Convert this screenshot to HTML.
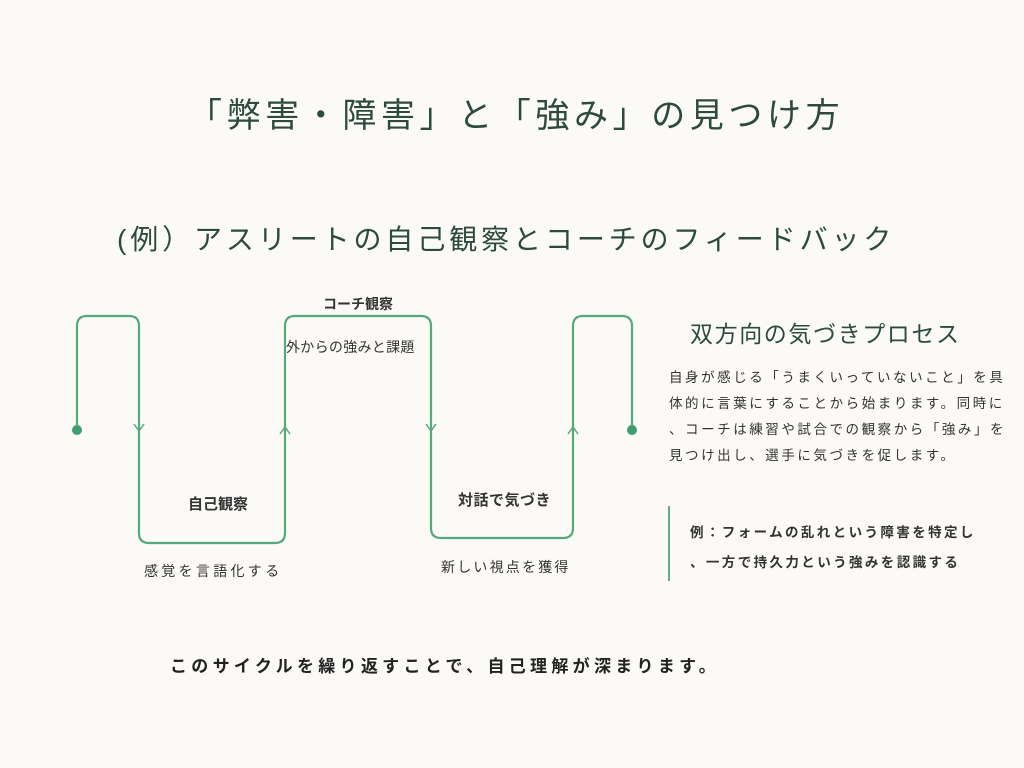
<!DOCTYPE html>
<html><head><meta charset="utf-8"><style>
body{margin:0;background:#fbfaf7;width:1024px;height:768px;overflow:hidden;position:relative;font-family:"Liberation Sans","Noto Sans CJK JP",sans-serif;color:#333}
.t{position:absolute;white-space:nowrap}
</style></head><body>
<div class="t" style="left:188px;top:88px;font-size:34px;letter-spacing:4.6px;color:#2c4a3e">「弊害・障害」と「強み」の見つけ方</div>
<div class="t" style="left:117px;top:218px;font-size:28px;letter-spacing:3.9px;color:#2c4a3e">(例）アスリートの自己観察とコーチのフィードバック</div>
<svg width="1024" height="768" style="position:absolute;left:0;top:0">
<path d="M77 430 V326 Q77 316 87 316 H129 Q139 316 139 326 V533 Q139 543 149 543 H275 Q285 543 285 533 V326 Q285 316 295 316 H421 Q431 316 431 326 V528 Q431 538 441 538 H563 Q573 538 573 528 V326 Q573 316 583 316 H622 Q632 316 632 326 V430" fill="none" stroke="#55a97d" stroke-width="2.2"/>
<circle cx="77" cy="430" r="5" fill="#3f9e70"/><circle cx="632" cy="430" r="5" fill="#3f9e70"/>
<g fill="none" stroke="#55a97d" stroke-width="1.5">
<path d="M134 424 L139 431 L144 424"/><path d="M280 434 L285 427 L290 434"/>
<path d="M426 424 L431 431 L436 424"/><path d="M568 434 L573 427 L578 434"/>
</g>
<line x1="669" y1="506" x2="669" y2="581" stroke="#6aa98a" stroke-width="2"/>
</svg>
<div class="t" style="left:323px;top:294px;font-size:14px;font-weight:bold;color:#333">コーチ観察</div>
<div class="t" style="left:286px;top:337px;font-size:14px;letter-spacing:0.3px;color:#333">外からの強みと課題</div>
<div class="t" style="left:188px;top:493px;font-size:15px;font-weight:bold;color:#333">自己観察</div>
<div class="t" style="left:458px;top:489px;font-size:15px;font-weight:bold;letter-spacing:0.5px;color:#333">対話で気づき</div>
<div class="t" style="left:144px;top:561px;font-size:14px;letter-spacing:3.3px;color:#333">感覚を言語化する</div>
<div class="t" style="left:441px;top:557px;font-size:14px;letter-spacing:2.2px;color:#333">新しい視点を獲得</div>
<div class="t" style="left:690px;top:315px;font-size:23px;letter-spacing:1.6px;color:#2c4a3e">双方向の気づきプロセス</div>
<div class="t" style="left:669px;top:365px;font-size:13.5px;line-height:26px;letter-spacing:2.55px;color:#333">自身が感じる「うまくいっていないこと」を具<br>体的に言葉にすることから始まります。同時に<br>、コーチは練習や試合での観察から「強み」を<br>見つけ出し、選手に気づきを促します。</div>
<div class="t" style="left:690px;top:518px;font-size:13.5px;font-weight:bold;line-height:30px;letter-spacing:2.4px;color:#333">例：フォームの乱れという障害を特定し<br>、一方で持久力という強みを認識する</div>
<div class="t" style="left:170px;top:652px;font-size:17px;font-weight:bold;letter-spacing:4.3px;color:#222">このサイクルを繰り返すことで、自己理解が深まります。</div>
</body></html>
